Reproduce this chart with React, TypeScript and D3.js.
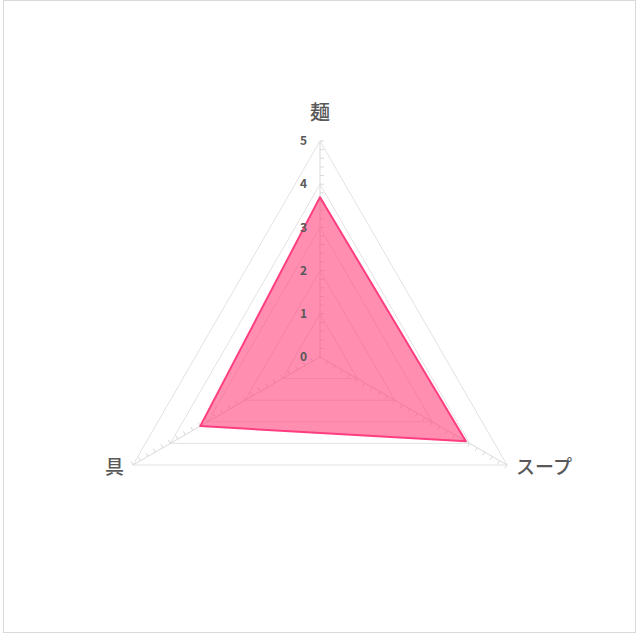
import * as d3 from 'd3';

const categories = ['麺', 'スープ', '具'];
const values = [3.7, 3.9, 3.2];
const tickLabels = [0, 1, 2, 3, 4, 5];

const W = 640;
const H = 640;
const cx = 320;
const cy = 357;
const R = 216;
const FONT = '"Noto Sans CJK JP", "Noto Sans", sans-serif';

export default function App() {
    const r = d3.scaleLinear().domain([0, 5]).range([0, R]);
    const angle = (i: number) => (i * 2 * Math.PI) / categories.length;
    const pt = (i: number, v: number): [number, number] => [
        cx + Math.sin(angle(i)) * r(v),
        cy - Math.cos(angle(i)) * r(v),
    ];

    const line = d3.line<[number, number]>().curve(d3.curveLinearClosed);
    const minorTicks = d3.range(1, 26).map(k => k / 5);

    const dataPts = values.map((v, i) => pt(i, v));

    return (
        <svg
            width={W}
            height={H}
            style={{ position: 'absolute', left: 0, top: 0, fontFamily: FONT }}
        >
            <rect x={3.5} y={0.5} width={632} height={632} fill="#fff" stroke="#d9d9d9" />

            {/* grid rings */}
            {tickLabels.slice(1).map(t => (
                <path
                    key={`g${t}`}
                    d={line(categories.map((_, i) => pt(i, t))) || ''}
                    fill="none"
                    stroke="#e3e3e3"
                    strokeWidth={1}
                />
            ))}

            {/* spokes + minor ticks */}
            {categories.map((_, i) => {
                const [x2, y2] = pt(i, 5);
                const a = angle(i);
                const dx = Math.cos(a);
                const dy = Math.sin(a);
                return (
                    <g key={`s${i}`}>
                        <line x1={cx} y1={cy} x2={x2} y2={y2} stroke="#d9d9d9" />
                        {minorTicks.map(t => {
                            const [px, py] = pt(i, t);
                            return (
                                <line
                                    key={t}
                                    x1={px}
                                    y1={py}
                                    x2={px + dx * 4}
                                    y2={py + dy * 4}
                                    stroke="#d9d9d9"
                                />
                            );
                        })}
                    </g>
                );
            })}

            {/* data */}
            <path
                d={line(dataPts) || ''}
                fill="rgb(255,60,120)"
                fillOpacity={0.58}
                stroke="#ff3d7f"
                strokeWidth={2}
                strokeLinejoin="round"
            />

            {/* tick labels */}
            {tickLabels.map(t => (
                <text
                    key={`t${t}`}
                    x={cx - 13}
                    y={cy - r(t)}
                    dy="0.35em"
                    textAnchor="end"
                    fontSize={12}
                    fontWeight="bold"
                    fill="#595959"
                >
                    {t}
                </text>
            ))}

            {/* category labels */}
            <text x={cx} y={pt(0, 5)[1] - 28.5} dy="0.35em" textAnchor="middle" fontSize={20} fontWeight={500} fill="#595959">
                {categories[0]}
            </text>
            <text x={pt(1, 5)[0] + 9} y={pt(1, 5)[1] + 2.5} dy="0.35em" textAnchor="start" fontSize={19} fontWeight={500} fill="#595959">
                {categories[1]}
            </text>
            <text x={pt(2, 5)[0] - 9} y={pt(2, 5)[1] + 2.5} dy="0.35em" textAnchor="end" fontSize={19} fontWeight={500} fill="#595959">
                {categories[2]}
            </text>
        </svg>
    );
}
